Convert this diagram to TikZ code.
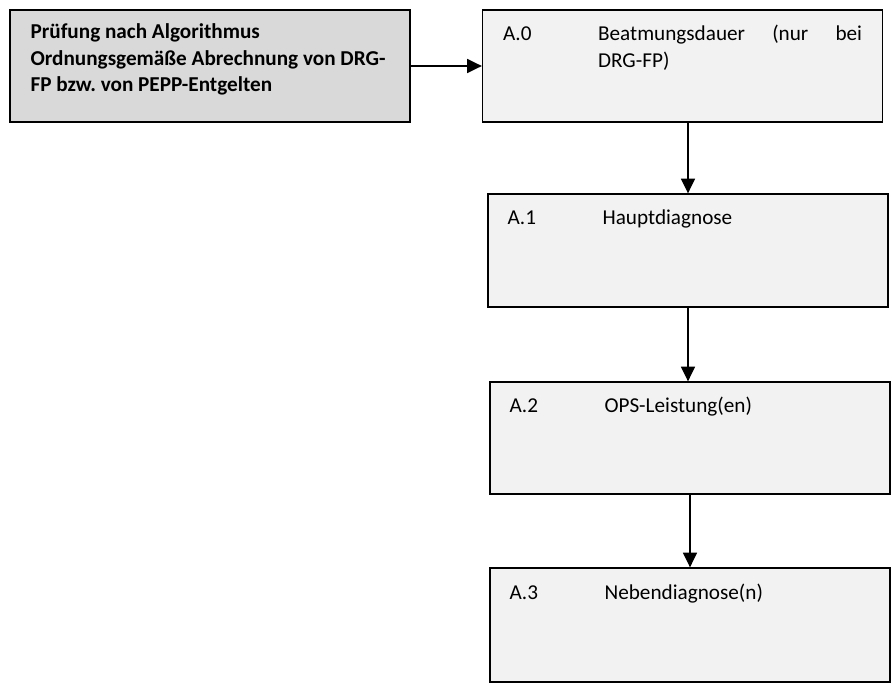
\documentclass[tikz,border=0pt]{standalone}
\usepackage{fontspec}
\setmainfont{Carlito}
\usetikzlibrary{arrows.meta,positioning}
\definecolor{kopfgrau}{HTML}{D9D9D9}
\definecolor{boxgrau}{HTML}{F2F2F2}
\newcommand{\schrift}{\fontsize{15.9pt}{19.9pt}\selectfont}
\newcommand{\zstrut}{\rule{0pt}{13pt}}

\begin{document}
\begin{tikzpicture}[x=0.75pt, y=-0.75pt, >={Triangle[length=11pt,width=10.5pt]}, font=\schrift, box/.style={draw, line width=1pt, minimum width=300pt, minimum height=84pt, inner sep=0pt}, txt/.style={anchor=north west, inner sep=0pt, align=left}]
\useasboundingbox (0,0) rectangle (892,684);
\node[box, fill=kopfgrau] (pruefung) at (210,66) {};
\node[box, fill=boxgrau] (a0) at (682.5,66) {};
\node[box, fill=boxgrau, minimum height=84.75pt] (a1) at (688,250.5) {};
\node[box, fill=boxgrau] (a2) at (690,438) {};
\node[box, fill=boxgrau, minimum height=85.5pt] (a3) at (690,625) {};
% Texte
\node[txt, font=\schrift\bfseries] (pruefungtext) at ([shift={(21,12)}]pruefung.north west) {\zstrut Prüfung nach Algorithmus\\Ordnungsgemäße Abrechnung von DRG-\\FP bzw.\ von PEPP-Entgelten};
\node[txt] (a0nr) at ([shift={(21,14)}]a0.north west) {\zstrut A.0};
\node[txt] (a0text) at ([shift={(116,14)}]a0.north west) {\zstrut\makebox[198pt][s]{Beatmungsdauer (nur bei}\\DRG-FP)};
\node[txt] (a1nr) at ([shift={(20,14)}]a1.north west) {\zstrut A.1};
\node[txt] (a1text) at ([shift={(115,14)}]a1.north west) {\zstrut Hauptdiagnose};
\node[txt] (a2nr) at ([shift={(20,14)}]a2.north west) {\zstrut A.2};
\node[txt] (a2text) at ([shift={(115,14)}]a2.north west) {\zstrut OPS-Leistung(en)};
\node[txt] (a3nr) at ([shift={(20,15)}]a3.north west) {\zstrut A.3};
\node[txt] (a3text) at ([shift={(115,15)}]a3.north west) {\zstrut Nebendiagnose(n)};
% Pfeile
\draw[->, line width=1pt] (pruefung.east) -- (a0.west);
\draw[->, line width=1pt] (a0.south -| a1.north) -- (a1.north);
\draw[->, line width=1pt] (a1.south) -- (a1.south |- a2.north);
\draw[->, line width=1pt] (a2.south) -- (a3.north);
\end{tikzpicture}
\end{document}
